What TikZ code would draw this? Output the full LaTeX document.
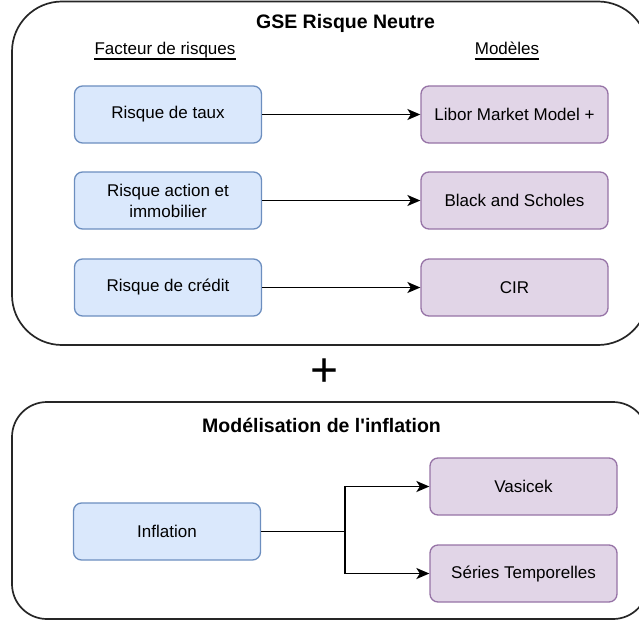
\documentclass[tikz,border=0pt]{standalone}
\usepackage{fontspec}
\setmainfont{Liberation Sans}
\usetikzlibrary{arrows.meta}
\definecolor{bluefill}{HTML}{DAE8FC}
\definecolor{bluedraw}{HTML}{6C8EBF}
\definecolor{purfill}{HTML}{E1D5E7}
\definecolor{purdraw}{HTML}{9673A6}
\begin{document}
\begin{tikzpicture}[x=1pt,y=-1pt,
  container/.style={draw=black!85, line width=1.7pt},
  basebox/.style={rectangle, rounded corners=8pt, line width=1.3pt, minimum height=57pt,
    align=center, font=\fontsize{17}{21}\selectfont, inner sep=2pt},
  riskbox/.style={basebox, draw=bluedraw, fill=bluefill, minimum width=187pt},
  modelbox/.style={basebox, draw=purdraw, fill=purfill, minimum width=187pt},
  titletext/.style={font=\bfseries\fontsize{19.5}{23}\selectfont},
  headtext/.style={font=\fontsize{17}{21}\selectfont, inner sep=0pt, anchor=base},
  arr/.style={draw=black, line width=1.8pt, -{Stealth[length=13pt,width=11pt,inset=3.5pt]}},
  uline/.style={draw=black, line width=1.6pt}
]
\useasboundingbox (0,0) rectangle (639,623);
\clip (0,0) rectangle (639,623);

% containers
\draw[container, rounded corners=50pt] (12,1.5) rectangle (648,345);
\draw[container, rounded corners=35pt] (12,402) rectangle (648,619);

% titles
\node[titletext] (t1) at (345.5,23) {GSE Risque Neutre};
\node[titletext] (t2) at (321.5,425) {Modélisation de l\textquotesingle inflation};

% headers
\node[headtext] (hf) at (165,55) {Facteur de risques};
\node[headtext] (hm) at (507,55) {Modèles};
\draw[uline] ([yshift=-4pt]hf.base west) -- ([yshift=-4pt]hf.base east);
\draw[uline] ([yshift=-4pt]hm.base west) -- ([yshift=-4pt]hm.base east);

% top boxes
\node[riskbox] (r1) at (168,114.5) {Risque de taux};
\node[riskbox] (r2) at (168,200.5) {Risque action et\\immobilier};
\node[riskbox] (r3) at (168,287.5) {Risque de crédit};
\node[modelbox] (m1) at (514.5,114.5) {Libor Market Model +};
\node[modelbox] (m2) at (514.5,200.5) {Black and Scholes};
\node[modelbox] (m3) at (514.5,287.5) {CIR};
\draw[arr] (r1.east) -- (m1.west);
\draw[arr] (r2.east) -- (m2.west);
\draw[arr] (r3.east) -- (m3.west);

% plus
\node[font=\fontsize{48}{50}\selectfont] (plus) at (325,373) {+};

% bottom boxes
\node[riskbox] (inf) at (167,531.5) {Inflation};
\node[modelbox] (vas) at (523.5,486.5) {Vasicek};
\node[modelbox] (ser) at (523.5,573.5) {Séries Temporelles};
\coordinate (br) at (345,531.5);
\draw[line width=1.8pt] (inf.east) -- (br);
\draw[arr] (br) |- (vas.west);
\draw[arr] (br) |- (ser.west);
\end{tikzpicture}
\end{document}
